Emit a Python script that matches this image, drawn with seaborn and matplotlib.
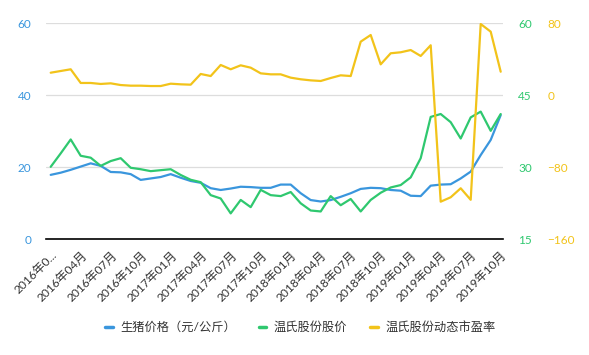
import pandas as pd
import matplotlib.pyplot as plt
import seaborn as sns
from matplotlib.lines import Line2D

sns.set_style("white")
plt.rcParams['font.family'] = ['Lato', 'Noto Sans CJK SC', 'DejaVu Sans']

months = [f"{y}年{m:02d}月" for y in range(2016, 2020) for m in range(1, 13)][:46]

price = [17.9, 18.5, 19.3, 20.2, 21.1, 20.4, 18.7, 18.6, 18.1, 16.5, 16.9, 17.3,
         18.1, 17.1, 16.2, 15.7, 14.2, 13.7, 14.1, 14.6, 14.5, 14.3, 14.3, 15.2,
         15.2, 12.8, 10.9, 10.5, 10.9, 11.8, 12.8, 14.0, 14.3, 14.2, 13.7, 13.5,
         12.1, 12.0, 14.9, 15.2, 15.3, 16.9, 18.8, 23.4, 27.6, 34.5]
stock = [30.1, 32.9, 35.8, 32.4, 32.0, 30.3, 31.3, 31.9, 29.9, 29.6, 29.2, 29.4,
         29.6, 28.4, 27.4, 26.9, 24.2, 23.5, 20.4, 23.2, 21.7, 25.3, 24.2, 24.0,
         24.85, 22.5, 21.0, 20.8, 24.0, 22.1, 23.4, 20.8, 23.2, 24.7, 25.8, 26.3,
         27.9, 31.9, 40.5, 41.1, 39.4, 36.0, 40.4, 41.6, 37.6, 41.1]
pe = [25.1, 27.0, 28.9, 13.7, 13.7, 12.6, 13.3, 11.4, 10.7, 10.7, 10.3, 10.3,
      12.9, 12.2, 11.8, 23.7, 21.4, 33.7, 28.9, 33.3, 30.7, 24.4, 23.3, 23.3,
      19.6, 17.8, 16.6, 15.9, 19.2, 22.2, 21.4, 59.6, 67.0, 34.4, 46.7, 47.8,
      50.3, 43.7, 55.6, -118.2, -113.3, -103.3, -116.1, 79.2, 70.7, 26.2]

names = ["生猪价格（元/公斤）", "温氏股份股价", "温氏股份动态市盈率"]
c_blue, c_green, c_yellow = "#3a96dd", "#2fc86f", "#f2c31a"

df = pd.DataFrame({"idx": range(len(months)), "price": price, "stock": stock, "pe": pe})

fig = plt.figure(figsize=(5.89, 3.55), dpi=100)
ax = fig.add_axes([46/589, 1-239.3/355, (502.7-46)/589, (239.3-23.3)/355])
ax2 = ax.twinx()
ax3 = ax.twinx()

sns.lineplot(data=df, x="idx", y="price", ax=ax, color=c_blue, lw=1.6)
sns.lineplot(data=df, x="idx", y="stock", ax=ax2, color=c_green, lw=1.6)
sns.lineplot(data=df, x="idx", y="pe", ax=ax3, color=c_yellow, lw=1.6)

ax.set_xlim(-0.47, 45.2)
ax.set_ylim(0, 60)
ax2.set_ylim(15, 60)
ax3.set_ylim(-160, 80)

ax.set_yticks([0, 20, 40, 60])
ax2.set_yticks([15, 30, 45, 60])
ax3.set_yticks([-160, -80, 0, 80])
ax.yaxis.grid(True, color="#dddddd", lw=0.9)
ax.set_axisbelow(True)

for a in (ax, ax2, ax3):
    for s in a.spines.values():
        s.set_visible(False)
    a.set_xlabel("")
    a.set_ylabel("")
ax.spines["bottom"].set_visible(True)
ax.spines["bottom"].set_color("#000000")
ax.spines["bottom"].set_linewidth(1.2)

ax.tick_params(axis="y", length=0, pad=10.5, labelsize=8.5, labelcolor=c_blue)
ax2.tick_params(axis="y", length=0, pad=11, labelsize=8.5, labelcolor=c_green)
ax3.tick_params(axis="y", length=0, pad=32, labelsize=8.5, labelcolor=c_yellow)

tick_pos = list(range(0, 46, 3))
tick_lab = [months[i] for i in tick_pos]
tick_lab[0] = "2016年0..."
ax.set_xticks(tick_pos)
ax.set_xticklabels(tick_lab, rotation=45, ha="right", va="top",
                   rotation_mode="anchor", fontsize=8.6, color="#333333")
ax.tick_params(axis="x", length=0, pad=7, bottom=True)

handles = [Line2D([], [], color=c, lw=2.5) for c in (c_blue, c_green, c_yellow)]
fig.legend(handles, names, loc="center", bbox_to_anchor=(0.51, 1-327/355), ncol=3,
           frameon=False, fontsize=8.8, handlelength=0.6, columnspacing=1.9,
           handletextpad=0.6, labelcolor="#333333")

fig.savefig("out.png", dpi=100)
